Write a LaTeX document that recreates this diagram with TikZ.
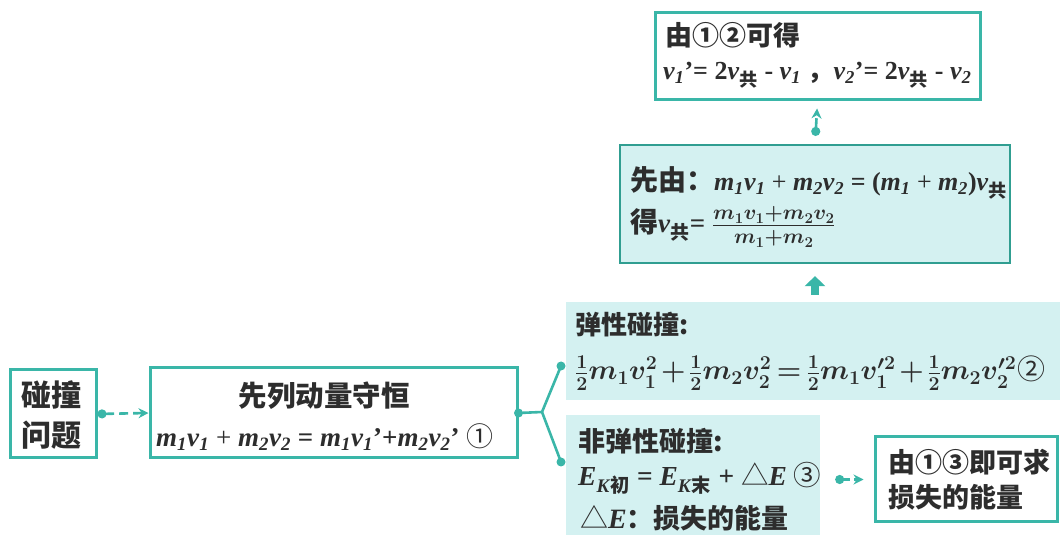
\documentclass[tikz,border=0pt]{standalone}
\usepackage{fix-cm}
\usepackage{fontspec}
\setmainfont{Liberation Serif}
\newfontfamily\cjk{Noto Sans CJK SC}
\usetikzlibrary{arrows.meta}
\definecolor{tealc}{RGB}{58,182,168}
\definecolor{tealdk}{RGB}{48,158,145}
\definecolor{fillc}{RGB}{212,241,241}
\definecolor{txtc}{RGB}{45,45,45}
\newcommand\tb[1]{\textbf{\textit{#1}}}
\newcommand\vs[2]{\tb{#1}\textsubscript{\tb{#2}}}
\newcommand\cs[1]{\textsubscript{\cjk\bfseries #1}}
\newcommand\pr{\textbf{’}}
\tikzset{
  wbox/.style={draw=tealc, line width=3pt, fill=white, inner sep=0pt},
  fbox/.style={fill=fillc, inner sep=0pt},
  cbox/.style={draw=tealdk, line width=2.2pt, fill=fillc, inner sep=0pt},
  zh/.style={inner sep=0pt, text=txtc, font=\cjk\bfseries\fontsize{27}{32}\selectfont},
  eq/.style={inner sep=0pt, text=txtc, font=\fontsize{26}{30}\selectfont},
  conn/.style={draw=tealc, line width=2.6pt},
  dot/.style={fill=tealc, draw=none, circle, minimum size=9pt, inner sep=0pt},
}
\begin{document}
\begin{tikzpicture}[x=1pt,y=1pt]
\useasboundingbox (0,0) rectangle (1062,535);
% boxes
\node[wbox, minimum width=86pt, minimum height=88pt] (q) at (53,121) {};
\node[wbox, minimum width=367pt, minimum height=90pt] (m) at (333.5,122) {};
\node[fbox, minimum width=494pt, minimum height=98pt] (el) at (813,184) {};
\node[fbox, minimum width=254pt, minimum height=120pt] (inel) at (693,60) {};
\node[wbox, minimum width=182pt, minimum height=85pt] (r) at (966,55.5) {};
\node[cbox, minimum width=390pt, minimum height=118pt] (xy) at (815,331) {};
\node[wbox, minimum width=325pt, minimum height=87pt] (top) at (817.5,478.5) {};
% texts
\node[zh, anchor=west, font=\cjk\bfseries\fontsize{30}{34}\selectfont] (q1) at (21,140) {碰撞};
\node[zh, anchor=west, font=\cjk\bfseries\fontsize{30}{34}\selectfont] (q2) at (21,100) {问题};
\node[zh, font=\cjk\bfseries\fontsize{28.5}{34}\selectfont] (m1) at (324,139) {先列动量守恒};
\node[eq, anchor=west, font=\fontsize{27}{32}\selectfont] (m2) at (156,98) {\vs m1\vs v1 + \vs m2\vs v2\textbf{ = }\vs m1\vs v1\pr\textbf{+}\vs m2\vs v2\pr\ {\cjk\mdseries ①}};
\node[zh, anchor=west, font=\cjk\bfseries\fontsize{26}{30}\selectfont] (e1) at (575,210) {弹性碰撞:};
\node[eq, anchor=west, font=\fontsize{28}{32}\selectfont\mathversion{bold}] (e2) at (575,162)
  {$\medmuskip=2mu\thickmuskip=3mu\frac{1}{2}m_1v_1^2+\frac{1}{2}m_2v_2^2=\frac{1}{2}m_1v_1'^2+\frac{1}{2}m_2v_2'^2$\hspace{1pt}{\cjk\mdseries ②}};
\node[zh, anchor=west] (i1) at (578,94) {非弹性碰撞:};
\node[eq, anchor=west, font=\fontsize{27.5}{32}\selectfont] (i2) at (578,57) {\tb{E}\textsubscript{\tb{K}{\cjk\bfseries 初}}\textbf{ = }\tb{E}\textsubscript{\tb{K}{\cjk\bfseries 末}}\textbf{ + }{\cjk △}\tb{E} {\cjk\mdseries ③}};
\node[eq, anchor=west, font=\fontsize{28}{32}\selectfont] (i3) at (580,17) {{\cjk △}\tb{E}{\cjk\bfseries\fontsize{27}{32}\selectfont ：损失的能量}};
\node[zh, anchor=west] (r1) at (888,73) {由①③即可求};
\node[zh, anchor=west] (r2) at (888,38) {损失的能量};
\node[eq, anchor=west] (x1) at (630,352) {{\cjk\bfseries\fontsize{28}{32}\selectfont 先由：}\vs m1\vs v1 + \vs m2\vs v2\textbf{ = (}\vs m1 + \vs m2\textbf{)}\tb{v}\cs{共}};
\node[eq, anchor=west, font=\fontsize{27}{32}\selectfont] (x2) at (630,308) {{\cjk\bfseries\fontsize{28}{32}\selectfont 得}\tb{v}\cs{共}\textbf{= }{\fontsize{30}{34}\selectfont\mathversion{bold}$\frac{m_1v_1+m_2v_2}{m_1+m_2}$}};
\node[zh, anchor=west] (t1) at (665,500) {由①②可得};
\node[eq, anchor=west] (t2) at (663,460) {\vs v1\pr\textbf{= 2}\tb{v}\cs{共}\textbf{ - }\vs v1\ {\cjk\bfseries ，}\vs v2\pr\textbf{= 2}\tb{v}\cs{共}\textbf{ - }\vs v2};
% connectors
\draw[conn, dashed, dash pattern=on 9pt off 5pt, {Circle[length=9pt]}-{Stealth[length=10pt,width=10pt]}] (q.east) -- (m.west);
\coordinate (j) at (542,123);
\coordinate (jt) at (561,169);
\coordinate (jb) at (561,73);
\draw[conn] (m.east) -- (j) -- (jt);
\draw[conn] (j) -- (jb);
\node[dot] (dm) at (m.east) {};
\node[dot] (dt) at (jt) {};
\node[dot] (db) at (jb) {};
\draw[conn, dashed, dash pattern=on 7pt off 4pt, shorten <=15pt, shorten >=10pt, {Circle[length=9pt]}-{Stealth[length=10pt,width=10pt]}] (inel.east |- r.west) -- (r.west);
\draw[draw=tealc, line width=8pt, shorten <=7pt, shorten >=12pt, -{Triangle[length=10pt,width=20pt]}] (el.north -| xy.south) -- (xy.south);
\draw[conn, dashed, dash pattern=on 10pt off 5pt, shorten <=8pt, shorten >=7pt, {Circle[length=9pt]}-{Stealth[length=10pt,width=10pt]}] (xy.north) -- (top.south);
\end{tikzpicture}
\end{document}
